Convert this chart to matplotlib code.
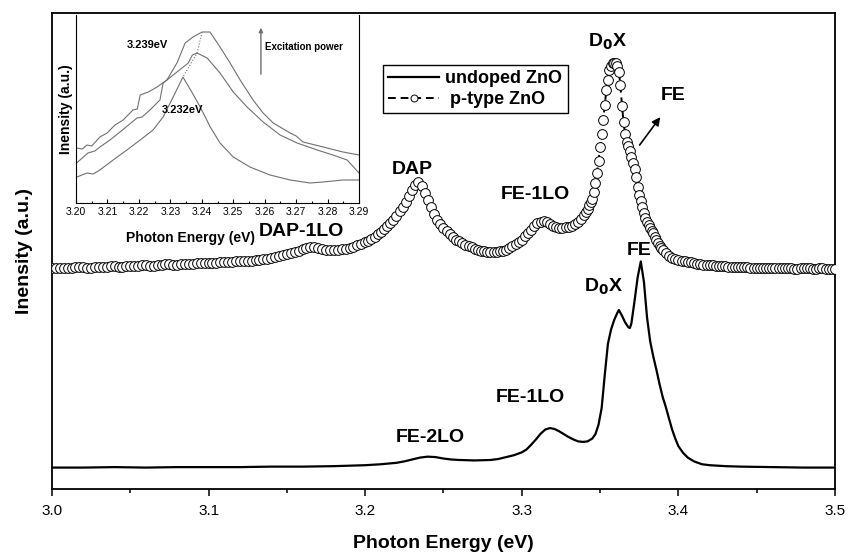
import numpy as np
import matplotlib
matplotlib.use('Agg')
import matplotlib.pyplot as plt

plt.rcParams['font.family'] = ['Liberation Sans', 'DejaVu Sans']

# ---------------- main spectra (arbitrary units) ----------------
undoped_x = [3.00, 3.02, 3.04, 3.06, 3.08, 3.10, 3.12, 3.14, 3.16, 3.18, 3.20, 3.21, 3.22,
             3.225, 3.23, 3.235, 3.24, 3.245, 3.25, 3.255, 3.26, 3.27, 3.28, 3.285, 3.29,
             3.295, 3.30, 3.303, 3.306, 3.309, 3.312, 3.315, 3.318, 3.321, 3.324, 3.327,
             3.330, 3.333, 3.336, 3.339, 3.342, 3.345, 3.347, 3.349, 3.351, 3.353, 3.355,
             3.357, 3.359, 3.361, 3.362, 3.364, 3.366, 3.368, 3.369, 3.370, 3.372, 3.374,
             3.376, 3.378, 3.380, 3.382, 3.384, 3.386, 3.388, 3.390, 3.392, 3.394, 3.396,
             3.398, 3.400, 3.403, 3.406, 3.410, 3.415, 3.42, 3.43, 3.44, 3.46, 3.48, 3.50]
undoped_y = [4.5, 4.5, 4.6, 4.5, 4.6, 4.6, 4.6, 4.7, 4.7, 4.8, 5.0, 5.2, 5.5,
             5.8, 6.2, 6.6, 6.8, 6.7, 6.4, 6.2, 6.1, 6.0, 6.1, 6.3, 6.7,
             7.1, 7.7, 8.3, 9.3, 10.4, 11.6, 12.5, 12.8, 12.6, 12.1, 11.5,
             10.9, 10.4, 10.0, 9.9, 10.0, 10.6, 11.5, 13.5, 17.0, 24.0, 30.5,
             33.5, 35.5, 37.0, 37.6, 36.4, 35.0, 34.0, 33.8, 34.8, 39.5, 44.5,
             47.8, 43.5, 36.0, 31.0, 27.8, 25.0, 22.0, 19.3, 17.2, 14.8, 12.5,
             10.6, 9.0, 7.6, 6.6, 5.8, 5.2, 5.0, 4.8, 4.7, 4.6, 4.5, 4.5]

ptype_x = np.concatenate([np.arange(3.000, 3.2001, 0.0025),
                          np.arange(3.202, 3.2601, 0.002),
                          np.arange(3.262, 3.3401, 0.002),
                          np.arange(3.341, 3.3901, 0.001),
                          np.arange(3.392, 3.4001, 0.002),
                          np.arange(3.402, 3.5001, 0.002)])
ptype_y = [46.4, 46.5, 46.5, 46.4, 46.4, 46.5, 46.6, 46.6, 46.6, 46.5, 46.5, 46.6, 46.7,
           46.7, 46.7, 46.8, 46.8, 46.7, 46.7, 46.8, 46.9,
           46.9, 46.9, 47.0, 47.0, 46.9, 46.9, 47.0, 47.1, 47.2, 47.2, 47.1, 47.1, 47.2,
           47.3, 47.3, 47.3, 47.4, 47.4, 47.5, 47.5,
           47.5, 47.5, 47.6, 47.7, 47.7, 47.7, 47.8, 47.9, 48.0, 48.0, 48.0, 48.1, 48.2,
           48.3, 48.4, 48.6, 48.7, 48.9, 49.1, 49.3,
           49.5, 49.8, 50.1, 50.4, 50.6, 50.8, 50.8, 50.6, 50.4, 50.3, 50.3, 50.3, 50.3,
           50.4, 50.5, 50.7, 50.9, 51.2, 51.5, 51.9,
           52.2, 52.6, 53.0, 53.5, 54.0, 54.6, 55.2, 55.9, 56.6, 57.4, 58.3, 59.3, 60.4,
           61.6, 62.8, 63.9, 64.4, 63.6, 62.2, 60.8, 59.2, 57.8, 56.6, 55.6, 54.8, 54.1,
           53.5, 52.9, 52.4, 52.0,
           51.6, 51.3, 51.0, 50.8, 50.5, 50.3, 50.1, 49.9, 49.8, 49.7, 49.7, 49.8, 49.9,
           50.1, 50.3, 50.6, 51.0, 51.4, 51.9, 52.4, 53.1, 53.8, 54.5, 55.2, 55.8, 56.1,
           56.2, 56.0, 55.6, 55.3, 55.0, 54.9, 54.9, 55.0, 55.1, 55.3, 55.6, 56.1, 56.8,
           57.6,
           58.2, 58.9, 59.6, 60.3, 61.0, 62.5, 64.3, 66.4, 69.0, 71.8, 74.6, 77.5, 80.7,
           83.8, 86.0, 88.0, 88.9, 89.4, 89.6, 89.4, 88.8, 87.6, 84.8, 80.5, 77.0, 74.5,
           73.0, 72.0, 71.0, 69.7, 68.4, 67.2, 65.5, 63.4, 61.8, 60.6, 59.2, 58.0, 57.0,
           56.0, 55.4, 54.9, 54.3, 53.8, 53.0, 52.3, 51.7, 51.1, 50.6, 50.2,
           49.6, 49.0, 48.6, 48.3, 48.1,
           48.0, 47.8, 47.7, 47.6, 47.4, 47.3, 47.2, 47.1, 47.1, 47.0, 47.0, 46.9, 46.9,
           46.8, 46.8, 46.7, 46.7, 46.7, 46.6, 46.6, 46.6, 46.6, 46.5, 46.5, 46.5, 46.5,
           46.5, 46.5, 46.4, 46.4, 46.5, 46.5, 46.4, 46.4, 46.4, 46.4, 46.3, 46.3, 46.4,
           46.4, 46.4, 46.4, 46.3, 46.3, 46.4, 46.4, 46.3, 46.3, 46.3, 46.3]

# ---------------- inset spectra ----------------
ins_hi_x = [3.2002, 3.2020, 3.2035, 3.2050, 3.2076, 3.2099, 3.2124, 3.2150, 3.2181, 3.2195,
            3.2204, 3.2230, 3.2258, 3.2289, 3.2321, 3.2347, 3.2372, 3.2401, 3.2426, 3.2458,
            3.2490, 3.2522, 3.2563, 3.2595, 3.2627, 3.2681, 3.2700, 3.2722, 3.2786, 3.2849,
            3.2900]
ins_hi_y = [55, 54, 58, 57, 66, 70, 78, 83, 93, 94, 108, 111, 116, 123, 140, 160, 166, 171,
            171, 156, 140, 123, 103, 90, 80, 70, 67, 61, 56, 51, 48]
ins_mid_x = [3.2002, 3.2038, 3.2060, 3.2076, 3.2108, 3.2140, 3.2194, 3.2210, 3.2235, 3.2267,
             3.2277, 3.2309, 3.2341, 3.2357, 3.2370, 3.2385, 3.2417, 3.2458, 3.2500, 3.2544,
             3.2595, 3.2649, 3.2703, 3.2767, 3.2817, 3.2862, 3.2900]
ins_mid_y = [40, 50, 52, 56, 63, 71, 85, 86, 93, 103, 120, 128, 136, 140, 148, 150, 145, 130,
             111, 96, 81, 68, 60, 53, 48, 43, 30]
ins_lo_x = [3.2003, 3.2035, 3.2055, 3.2076, 3.2118, 3.2162, 3.2204, 3.2245, 3.2277, 3.2309,
            3.2340, 3.2370, 3.2395, 3.2427, 3.2458, 3.2500, 3.2553, 3.2617, 3.2681, 3.2744,
            3.2786, 3.2849, 3.2900]
ins_lo_y = [26, 30, 29, 33, 43, 53, 63, 73, 86, 106, 126, 110, 96, 76, 60, 46, 36, 28, 23,
            20, 21, 23, 23]

fig = plt.figure(figsize=(8.49, 5.56), dpi=100)
ax = fig.add_axes([0.0612, 0.1205, 0.9223, 0.8561])

ax.plot(undoped_x, undoped_y, color='black', lw=1.6, label='undoped ZnO', zorder=3)
ax.plot(ptype_x, ptype_y, color='black', lw=1.4, ls=(0, (4, 2.5)), marker='o', ms=7,
        mfc='white', mec='black', mew=0.7, label=' p-type ZnO', zorder=4)

ax.set_xlim(3.0, 3.5)
ax.set_ylim(0, 100)
ax.set_xticks([3.0, 3.1, 3.2, 3.3, 3.4, 3.5])
ax.set_xticks(np.arange(3.05, 3.5, 0.1), minor=True)
ax.set_yticks([])
ax.tick_params(axis='x', which='major', direction='out', length=5, width=1.1, labelsize=11, pad=6)
ax.tick_params(axis='x', which='minor', direction='out', length=3, width=1.1)
for s in ax.spines.values():
    s.set_linewidth(1.3)
ax.set_xlabel('Photon Energy (eV)', fontsize=14, fontweight='bold', labelpad=12)
ax.set_ylabel('Inensity (a.u.)', fontsize=14, fontweight='bold', labelpad=14)

lab = dict(fontsize=14, fontweight='bold', ha='center', va='center')
ax.text(3.2299, 67.2, 'DAP', **lab)
ax.text(3.1596, 54.2, 'DAP-1LO', **lab)
ax.text(3.3084, 61.8, 'FE-1LO', **lab)
ax.text(3.3545, 94.0, r'D$_\mathbf{0}$X', **lab)
ax.text(3.3966, 82.6, 'FE', **lab)
ax.annotate('', xy=(3.3895, 78.6), xytext=(3.3742, 71.8),
            arrowprops=dict(arrowstyle='-|>', color='black', lw=1.2, mutation_scale=12))
ax.text(3.3748, 50.2, 'FE', **lab)
ax.text(3.3525, 42.4, r'D$_\mathbf{0}$X', **lab)
ax.text(3.3052, 19.3, 'FE-1LO', **lab)
ax.text(3.2414, 10.9, 'FE-2LO', **lab)

leg = ax.legend(loc='upper left', bbox_to_anchor=(0.4227, 0.891), borderaxespad=0,
                fancybox=False, framealpha=1, edgecolor='black', handlelength=2.8,
                handletextpad=0.35, borderpad=0.3, labelspacing=0.2,
                prop={'weight': 'bold', 'size': 13})
leg.get_frame().set_linewidth(1.0)
leg.legend_handles[1].set_markersize(5)

# ---------------- inset ----------------
ins = fig.add_axes([0.0895, 0.6349, 0.3334, 0.3381])
gray = '#707070'
curves = [(ins_hi_x, ins_hi_y), (ins_mid_x, ins_mid_y), (ins_lo_x, ins_lo_y)]
for cx, cy in curves:
    ins.plot(cx, cy, color=gray, lw=0.8)
# dotted line through the peaks
px = [c[0][int(np.argmax(c[1]))] for c in curves]
py = [max(c[1]) for c in curves]
ins.plot(px, py, color=gray, lw=0.8, ls=':')

ins.set_xlim(3.20, 3.29)
ins.set_ylim(0, 188)
ins.set_xticks(np.round(np.arange(3.20, 3.2901, 0.01), 2))
ins.set_xticks(np.arange(3.205, 3.29, 0.01), minor=True)
ins.set_yticks([])
ins.tick_params(axis='x', which='major', direction='in', length=3, width=0.8,
                labelsize=7.5, pad=3)
ins.tick_params(axis='x', which='minor', direction='in', length=1.5, width=0.8)
ins.spines['top'].set_visible(False)
for s in ['left', 'bottom', 'right']:
    ins.spines[s].set_linewidth(0.8)
ins.set_xlabel('Photon Energy (eV)', fontsize=10, fontweight='bold')
ins.xaxis.set_label_coords(0.406, -0.15)
ins.set_ylabel('Inensity (a.u.)', fontsize=10, fontweight='bold', labelpad=2)
ins.text(3.2162, 158, '3.239eV', fontsize=8, fontweight='bold', va='center')
ins.text(3.2272, 93, '3.232eV', fontsize=8, fontweight='bold', va='center')
ins.annotate('', xy=(3.2588, 178), xytext=(3.2588, 126),
             arrowprops=dict(arrowstyle='-|>', color=gray, lw=1.0, mutation_scale=6))
ins.text(3.2601, 156, 'Excitation power', fontsize=7, fontweight='bold', va='center')

fig.savefig('out.png', dpi=100)
